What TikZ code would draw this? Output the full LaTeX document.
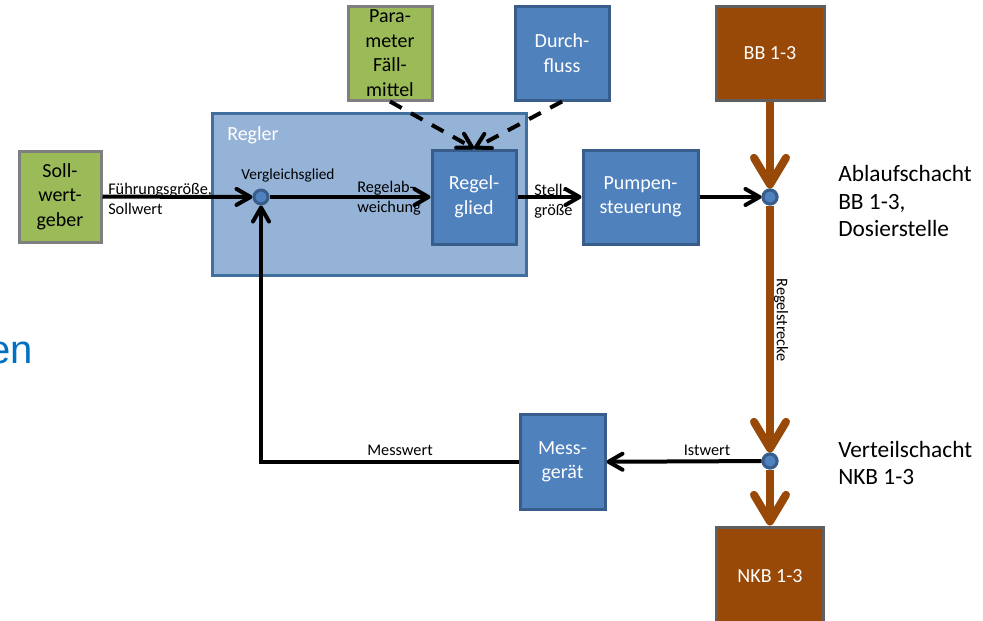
\documentclass[tikz,border=0pt]{standalone}
\usepackage{fontspec}
\setmainfont{Carlito}
\newfontfamily\titelfont{Liberation Sans}
\usetikzlibrary{arrows.meta}
\definecolor{gruen}{HTML}{9BBB59}
\definecolor{grau}{HTML}{7F7F7F}
\definecolor{graudunkel}{HTML}{5F5F5F}
\definecolor{blau}{HTML}{4F81BD}
\definecolor{blaurand}{HTML}{385D8A}
\definecolor{reglerfill}{HTML}{95B3D7}
\definecolor{reglerrand}{HTML}{41709F}
\definecolor{braun}{HTML}{984807}
\definecolor{titelblau}{HTML}{0070C0}

\begin{document}
\begin{tikzpicture}[x=0.75pt,y=-0.75pt,
  box/.style={draw,line width=2.25pt,inner sep=0pt,align=center,
    font=\fontsize{15}{18.4}\selectfont},
  greenbox/.style={box,fill=gruen,draw=grau},
  bluebox/.style={box,fill=blau,draw=blaurand,text=white},
  brownbox/.style={box,fill=braun,draw=graudunkel,text=white},
  dot/.style={circle,draw=blaurand,fill=blau,line width=2.25pt,
    minimum size=10.5pt,inner sep=0pt},
  sig/.style={line width=3pt,-{Straight Barb[round,length=10.5pt,width=12pt]}},
  flow/.style={draw=braun,line width=6pt,
    -{Straight Barb[round,length=20pt,width=24pt]}},
  lbl/.style={font=\fontsize{12.2}{15}\selectfont,inner sep=0pt,align=left},
  side/.style={font=\fontsize{17.5}{20.6}\selectfont,inner sep=0pt,align=left}]
\useasboundingbox (0,0) rectangle (983,621);

% Regler (background)
\node[box,fill=reglerfill,draw=reglerrand,minimum width=235.5pt,
  minimum height=121.5pt] (regler) at (369,194) {};
\node[anchor=west,text=white,inner sep=0pt,
  font=\fontsize{15}{18.4}\selectfont] at (227,135) {Regler};

% Blocks
\node[greenbox,minimum width=61.5pt,minimum height=68.25pt] (soll)
  at (60,196.5) {Soll-\\wert-\\geber};
\node[greenbox,minimum width=63pt,minimum height=70.5pt] (param)
  at (390,53) {Para-\\meter\\Fäll-\\mittel};
\node[bluebox,minimum width=70.5pt,minimum height=70.5pt] (durch)
  at (562,53) {Durch-\\fluss};
\node[bluebox,minimum width=63pt,minimum height=70.5pt] (glied)
  at (474,197) {Regel-\\glied};
\node[bluebox,minimum width=86.25pt,minimum height=70.5pt] (pumpe)
  at (640.5,197) {Pumpen-\\steuerung};
\node[bluebox,minimum width=63.75pt,minimum height=71.25pt] (mess)
  at (562.5,462) {Mess-\\gerät};
\node[brownbox,minimum width=81pt,minimum height=70.5pt] (bb)
  at (770,53) {BB 1-3};
\node[brownbox,minimum width=80.25pt,minimum height=73.5pt] (nkb)
  at (770,576) {NKB 1-3};

% Points
\node[dot] (vgl) at (261,197) {};
\node[dot] (dos) at (770,197) {};
\node[dot] (vert) at (770,461) {};

% Signal labels
\node[lbl,anchor=west] at (108,199) {Führungsgröße,\\Sollwert};
\node[lbl,anchor=base,font=\fontsize{11.5}{15}\selectfont] at (288,179) {Vergleichsglied};
\node[lbl,anchor=west] at (357,198) {Regelab-\\weichung};
\node[lbl,anchor=west] at (534,201) {Stell-\\größe};
\node[lbl,anchor=base] at (707,455) {Istwert};
\node[lbl,anchor=base] at (400,455) {Messwert};
\node[lbl,rotate=-90] at (781,320) {Regelstrecke};

% Signal flow
\draw[sig] (soll) -- (vgl);
\draw[sig] (vgl) -- (glied);
\draw[sig] (glied) -- (pumpe);
\draw[sig] (pumpe) -- (dos);
\draw[sig] (vert) -- (mess);
\draw[sig] (mess) -| (vgl);
\draw[sig,dash pattern=on 10pt off 8pt] (param.south) -- (glied.north);
\draw[sig,dash pattern=on 10pt off 8pt] (durch.south) -- (glied.north);

% Regelstrecke
\draw[flow] (bb) -- (dos);
\draw[flow] (dos) -- (vert);
\draw[flow] (vert) -- (nkb);
\node[dot] at (dos) {};
\node[dot] at (vert) {};

% Places
\node[side,anchor=west] (ablauf) at (838,201) {Ablaufschacht\\BB 1-3,\\Dosierstelle};
\node[side,anchor=west] (verteil) at (838,463) {Verteilschacht\\NKB 1-3};
\node[anchor=base east,text=titelblau,inner sep=0pt,
  font=\titelfont\fontsize{30}{36}\selectfont] at (33,363) {en};
\end{tikzpicture}
\end{document}
